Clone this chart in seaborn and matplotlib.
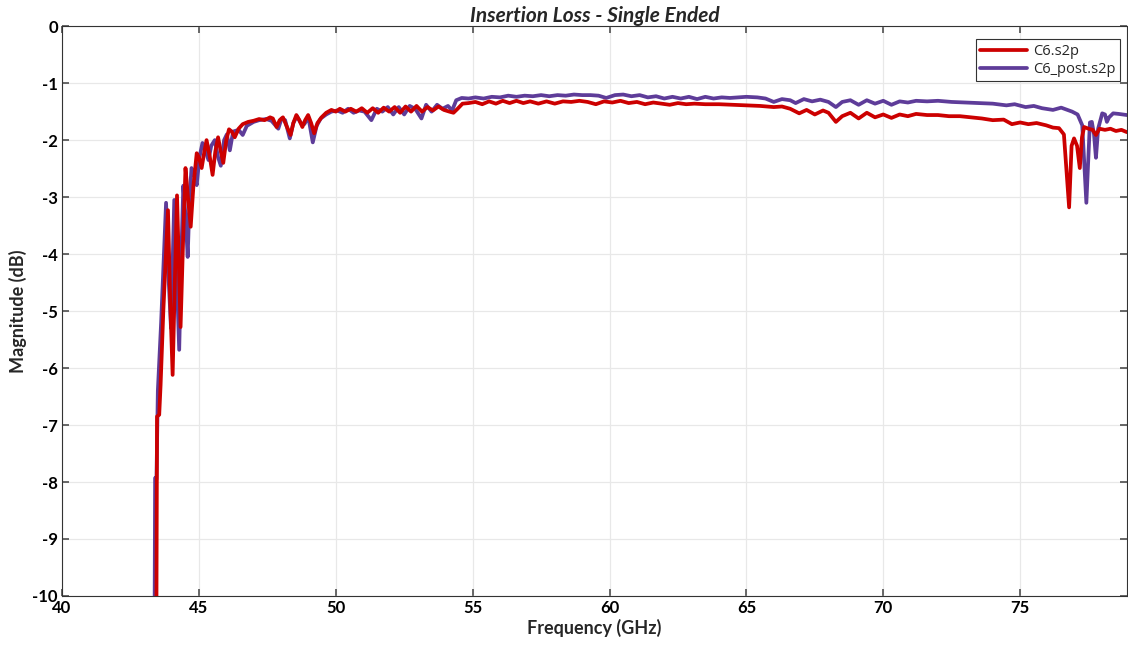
import matplotlib
matplotlib.use("Agg")
import matplotlib.pyplot as plt
import seaborn as sns
import pandas as pd

# ---- data ----
freq_c6 = [43.40, 43.45, 43.47, 43.55, 43.60, 43.70, 43.87, 43.95, 44.04, 44.12,
           44.20, 44.27, 44.33, 44.42, 44.51, 44.60, 44.70, 44.80, 44.92, 45.00,
           45.10, 45.20, 45.28, 45.40, 45.50, 45.60, 45.70, 45.80, 45.89, 46.00,
           46.10, 46.20, 46.31, 46.45, 46.60, 46.80, 47.00, 47.20, 47.40, 47.60,
           47.70, 47.84, 47.95, 48.07, 48.20, 48.35, 48.45, 48.56, 48.67, 48.78,
           48.88, 48.99, 49.10, 49.21, 49.33, 49.48, 49.65, 49.84, 50.00, 50.15,
           50.35, 50.55, 50.75, 50.95, 51.15, 51.35, 51.55, 51.75, 51.95, 52.15,
           52.35, 52.55, 52.75, 52.95, 53.15, 53.35, 53.55, 53.75, 53.95, 54.15,
           54.30, 54.45, 54.63, 54.85, 55.10, 55.35, 55.60, 55.85, 56.10, 56.35,
           56.60, 56.85, 57.10, 57.40, 57.70, 58.00, 58.30, 58.60, 58.90, 59.20,
           59.50, 59.80, 60.10, 60.40, 60.70, 61.00, 61.30, 61.60, 61.90, 62.20,
           62.50, 62.80, 63.10, 63.50, 64.00, 64.50, 65.00, 65.50, 66.00, 66.30,
           66.60, 66.93, 67.20, 67.50, 67.80, 68.00, 68.27, 68.50, 68.80, 69.10,
           69.40, 69.70, 70.00, 70.30, 70.60, 70.90, 71.20, 71.60, 72.00, 72.40,
           72.80, 73.20, 73.60, 74.00, 74.40, 74.70, 75.00, 75.30, 75.60, 75.95,
           76.20, 76.42, 76.60, 76.79, 76.88, 76.97, 77.08, 77.18, 77.26, 77.34,
           77.50, 77.65, 77.77, 77.90, 78.10, 78.30, 78.50, 78.70, 78.90]
mag_c6 = [-10.5, -10.0, -6.85, -6.82, -6.30, -5.00, -3.23, -4.80, -6.12, -4.50,
          -2.97, -4.20, -5.28, -3.80, -2.49, -3.00, -3.52, -2.80, -2.23, -2.30,
          -2.49, -2.20, -2.00, -2.30, -2.61, -2.20, -1.95, -2.20, -2.40, -2.00,
          -1.81, -1.85, -1.95, -1.80, -1.72, -1.68, -1.66, -1.63, -1.65, -1.60,
          -1.62, -1.77, -1.65, -1.60, -1.75, -1.91, -1.70, -1.56, -1.65, -1.77,
          -1.65, -1.56, -1.70, -1.88, -1.70, -1.60, -1.52, -1.47, -1.50, -1.45,
          -1.50, -1.45, -1.50, -1.44, -1.52, -1.44, -1.52, -1.43, -1.50, -1.42,
          -1.52, -1.41, -1.50, -1.40, -1.50, -1.42, -1.48, -1.41, -1.47, -1.50,
          -1.52, -1.45, -1.36, -1.35, -1.33, -1.37, -1.32, -1.36, -1.31, -1.35,
          -1.31, -1.35, -1.32, -1.36, -1.32, -1.36, -1.32, -1.33, -1.31, -1.33,
          -1.37, -1.32, -1.34, -1.31, -1.35, -1.33, -1.37, -1.34, -1.36, -1.38,
          -1.35, -1.37, -1.36, -1.37, -1.37, -1.38, -1.39, -1.40, -1.42, -1.41,
          -1.45, -1.53, -1.47, -1.55, -1.48, -1.52, -1.68, -1.58, -1.52, -1.62,
          -1.52, -1.60, -1.55, -1.61, -1.55, -1.58, -1.54, -1.56, -1.56, -1.58,
          -1.58, -1.60, -1.62, -1.65, -1.64, -1.72, -1.69, -1.72, -1.70, -1.74,
          -1.78, -1.79, -1.90, -3.18, -2.10, -1.97, -2.10, -2.49, -1.95, -1.77,
          -1.80, -1.82, -1.91, -1.80, -1.82, -1.80, -1.84, -1.82, -1.86]

freq_post = [43.38, 43.40, 43.45, 43.50, 43.62, 43.80, 43.90, 43.98, 44.10, 44.20,
             44.28, 44.36, 44.43, 44.52, 44.59, 44.66, 44.73, 44.83, 44.92, 45.02,
             45.13, 45.25, 45.35, 45.45, 45.58, 45.70, 45.80, 45.92, 46.02, 46.13,
             46.25, 46.45, 46.60, 46.75, 47.00, 47.20, 47.45, 47.65, 47.90, 48.02,
             48.15, 48.32, 48.45, 48.58, 48.72, 48.85, 49.00, 49.16, 49.30, 49.45,
             49.65, 49.84, 50.05, 50.25, 50.45, 50.65, 50.85, 51.05, 51.30, 51.50,
             51.70, 51.90, 52.10, 52.30, 52.50, 52.70, 52.90, 53.13, 53.30, 53.50,
             53.70, 53.90, 54.10, 54.25, 54.40, 54.60, 54.85, 55.10, 55.40, 55.70,
             56.00, 56.30, 56.60, 56.90, 57.20, 57.50, 57.80, 58.10, 58.40, 58.70,
             59.00, 59.30, 59.60, 59.88, 60.20, 60.50, 60.80, 61.10, 61.40, 61.70,
             62.00, 62.30, 62.60, 62.90, 63.20, 63.50, 63.80, 64.10, 64.40, 64.70,
             65.00, 65.40, 65.70, 66.00, 66.30, 66.60, 66.80, 67.10, 67.40, 67.70,
             68.00, 68.27, 68.50, 68.80, 69.10, 69.40, 69.70, 70.00, 70.30, 70.60,
             70.90, 71.20, 71.60, 72.00, 72.50, 73.00, 73.50, 74.00, 74.50, 74.80,
             75.20, 75.50, 75.80, 76.20, 76.50, 76.90, 77.10, 77.27, 77.42, 77.55,
             77.62, 77.70, 77.77, 77.85, 78.00, 78.10, 78.17, 78.25, 78.40, 78.60,
             78.90]
mag_post = [-10.5, -7.93, -7.95, -6.40, -5.20, -3.10, -4.50, -5.30, -3.05, -4.50,
            -5.68, -4.00, -2.80, -3.40, -4.05, -3.00, -2.49, -2.60, -2.79, -2.30,
            -2.05, -2.20, -2.35, -2.10, -2.00, -2.30, -2.45, -2.00, -1.90, -2.18,
            -1.85, -1.82, -1.91, -1.75, -1.68, -1.65, -1.63, -1.66, -1.80, -1.62,
            -1.65, -1.97, -1.70, -1.58, -1.70, -1.72, -1.60, -2.04, -1.75, -1.62,
            -1.55, -1.50, -1.48, -1.52, -1.45, -1.52, -1.48, -1.50, -1.65, -1.45,
            -1.50, -1.42, -1.55, -1.42, -1.55, -1.40, -1.45, -1.62, -1.38, -1.50,
            -1.38, -1.45, -1.40, -1.48, -1.30, -1.26, -1.27, -1.25, -1.27, -1.24,
            -1.25, -1.22, -1.24, -1.22, -1.23, -1.21, -1.23, -1.21, -1.22, -1.20,
            -1.21, -1.21, -1.22, -1.26, -1.21, -1.20, -1.23, -1.21, -1.25, -1.23,
            -1.27, -1.24, -1.27, -1.24, -1.28, -1.24, -1.27, -1.25, -1.26, -1.25,
            -1.24, -1.25, -1.27, -1.33, -1.28, -1.30, -1.35, -1.28, -1.32, -1.29,
            -1.33, -1.42, -1.33, -1.30, -1.38, -1.30, -1.36, -1.31, -1.38, -1.32,
            -1.34, -1.31, -1.32, -1.31, -1.33, -1.34, -1.35, -1.36, -1.39, -1.37,
            -1.42, -1.40, -1.44, -1.47, -1.43, -1.50, -1.55, -1.74, -3.10, -1.69,
            -1.68, -1.90, -2.31, -1.80, -1.53, -1.55, -1.68, -1.60, -1.53, -1.54,
            -1.56]

series_names = ["C6.s2p", "C6_post.s2p"]
series_colors = ["#CC0000", "#5E3C99"]
x_ticks = [40, 45, 50, 55, 60, 65, 70, 75]
y_ticks = [0, -1, -2, -3, -4, -5, -6, -7, -8, -9, -10]

df_c6 = pd.DataFrame({"freq": freq_c6, "mag": mag_c6, "series": series_names[0]})
df_post = pd.DataFrame({"freq": freq_post, "mag": mag_post, "series": series_names[1]})

sns.set_theme(style="whitegrid")
plt.rcParams["font.family"] = ["Lato", "DejaVu Sans"]

fig = plt.figure(figsize=(11.28, 6.49), dpi=100)
ax = fig.add_axes([0.055, 0.0817, 0.944, 0.878])

sns.lineplot(data=df_post, x="freq", y="mag", color=series_colors[1], linewidth=2.7,
             sort=False, estimator=None, ax=ax, label=series_names[1], zorder=2)
sns.lineplot(data=df_c6, x="freq", y="mag", color=series_colors[0], linewidth=2.7,
             sort=False, estimator=None, ax=ax, label=series_names[0], zorder=3)
for ln in ax.get_lines():
    ln.set_solid_joinstyle("round")

ax.set_xlim(40, 78.9)
ax.set_ylim(-10, 0)
ax.set_xticks(x_ticks)
ax.set_yticks(y_ticks)
ax.set_xticklabels([str(t) for t in x_ticks], fontweight="bold", fontsize=12)
ax.set_yticklabels([str(t) for t in y_ticks], fontweight="bold", fontsize=12)
ax.set_xlabel("Frequency (GHz)", fontweight="bold", fontsize=13, labelpad=2)
ax.set_ylabel("Magnitude (dB)", fontweight="bold", fontsize=13, labelpad=4)
ax.set_title("Insertion Loss - Single Ended", fontweight="bold", fontstyle="italic",
             fontsize=15, pad=3)

ax.grid(True, color="#E8E8E8", linewidth=0.9)
for s in ax.spines.values():
    s.set_color("#333333")
    s.set_linewidth(0.8)
    s.set_visible(True)
ax.tick_params(axis="both", direction="in", length=5, color="#555555", pad=3,
               top=True, right=True, bottom=True, left=True, labelcolor="black")

handles, labels = ax.get_legend_handles_labels()
order = [labels.index(n) for n in series_names]
leg = ax.legend([handles[i] for i in order], [labels[i] for i in order],
                loc="upper right", bbox_to_anchor=(0.996, 0.982), fontsize=10.5,
                frameon=True, fancybox=False, framealpha=1, edgecolor="#333333",
                handlelength=3.2, borderpad=0.3, labelspacing=0.2, handletextpad=0.4,
                borderaxespad=0.2)
leg.get_frame().set_linewidth(0.8)
for t in leg.get_texts():
    t.set_family(["Open Sans", "DejaVu Sans"])

fig.savefig("out.png", dpi=100, facecolor="white")
